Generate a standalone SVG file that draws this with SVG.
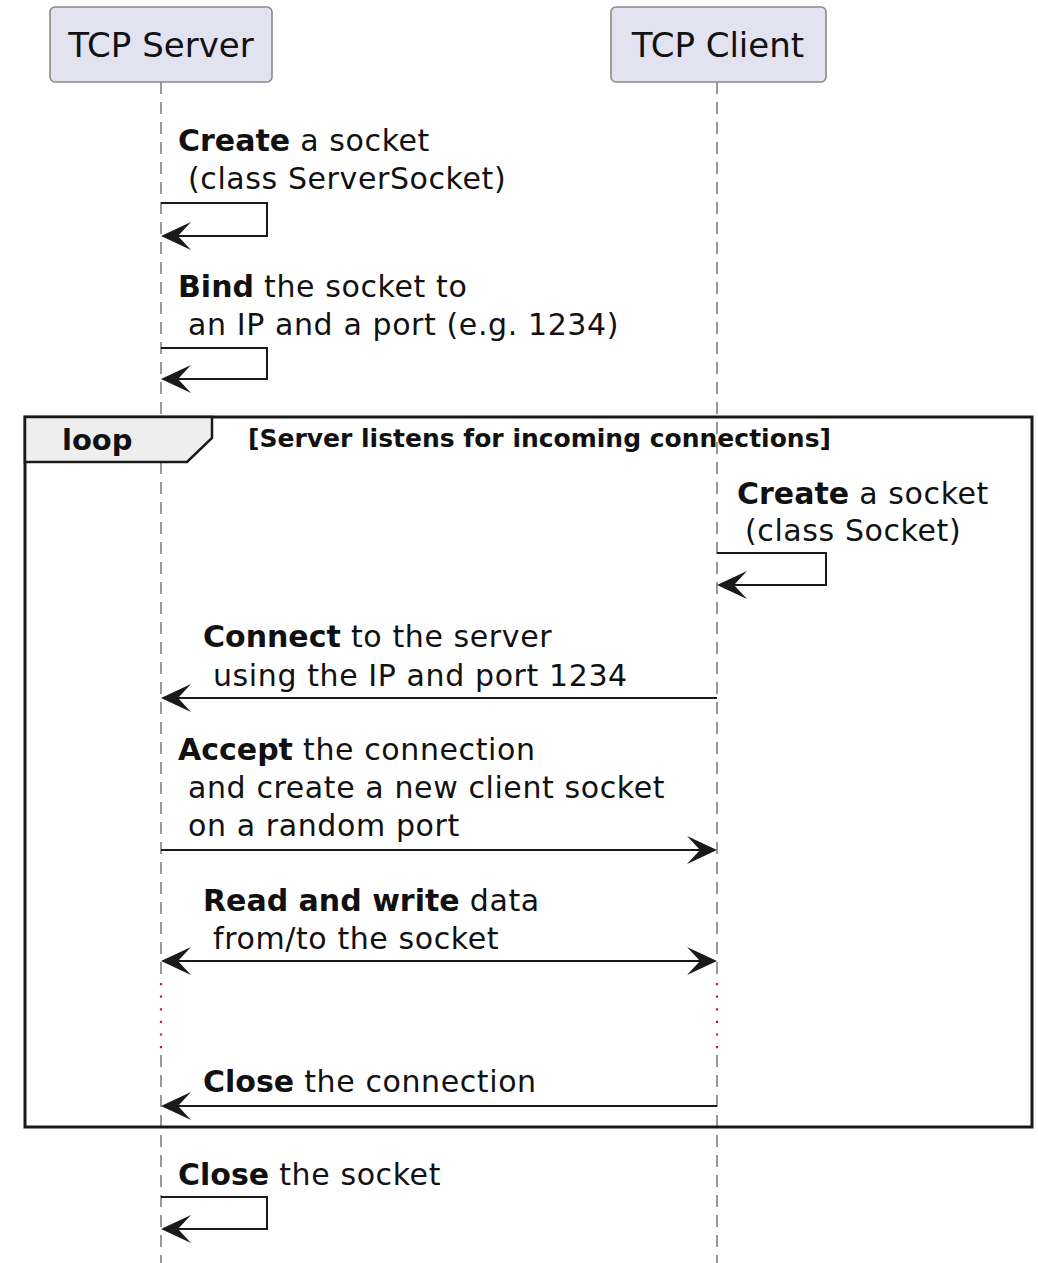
<svg xmlns="http://www.w3.org/2000/svg" width="1038" height="1263" viewBox="0 0 1038 1263">
<style>
.bg{fill:#ffffff}
.part rect{fill:#E2E2F0;stroke:#8a8a8a;stroke-width:1.6}
.part text{font-family:"DejaVu Sans",sans-serif;font-size:34px;fill:#111;text-anchor:middle}
.life{stroke:#808080;stroke-width:1.6;stroke-dasharray:12,8;fill:none}
.delay{stroke:#C2185B;stroke-width:2.2;stroke-dasharray:2.2,10.4;fill:none}
.msg{stroke:#1a1a1a;stroke-width:2;fill:none}
.head{fill:#1a1a1a}
.lbl{font-family:"DejaVu Sans",sans-serif;font-size:30px;fill:#111;letter-spacing:0.6px}
.b{font-weight:bold;letter-spacing:0px}
.frame{fill:none;stroke:#1a1a1a;stroke-width:3}
.tab{fill:#EEEEEE;stroke:#1a1a1a;stroke-width:2.5}
.tabtxt{font-family:"DejaVu Sans",sans-serif;font-size:29px;font-weight:bold;fill:#111}
.guard{font-family:"DejaVu Sans",sans-serif;font-size:25px;font-weight:bold;fill:#111}
</style>
<defs>
<path id="hl" d="M0,0 L30,-14 L17,0 L30,14 Z"/>
<path id="hr" d="M0,0 L-30,-14 L-17,0 L-30,14 Z"/>
</defs>
<rect class="bg" x="0" y="0" width="1038" height="1263"/>

<g id="lifelines">
<path class="life" d="M161,82 V975 M161,1055 V1263"/>
<path class="life" d="M717,82 V975 M717,1055 V1263"/>
<path class="delay" d="M161,983 V1050"/>
<path class="delay" d="M717,983 V1050"/>
</g>

<g id="participant-server" class="part">
<rect x="50" y="7" width="222" height="75" rx="5"/>
<text x="161" y="57">TCP Server</text>
</g>
<g id="participant-client" class="part">
<rect x="611" y="7" width="215" height="75" rx="5"/>
<text x="718" y="57">TCP Client</text>
</g>

<g id="loop-frame">
<rect class="frame" x="25" y="417" width="1007" height="710"/>
<path class="tab" d="M25,417 H212 V438 L187,462 H25 Z"/>
<text class="tabtxt" x="62" y="450">loop</text>
<text class="guard" x="248" y="447">[Server listens for incoming connections]</text>
</g>

<g id="connectors">
<g id="m1">
<path class="msg" d="M161,203 H267 V236 H163"/>
<use href="#hl" x="161" y="236" class="head"/>
<text class="lbl" x="178" y="151"><tspan class="b">Create</tspan> a socket</text>
<text class="lbl" x="188" y="189">(class ServerSocket)</text>
</g>
<g id="m2">
<path class="msg" d="M161,348 H267 V379 H163"/>
<use href="#hl" x="161" y="379" class="head"/>
<text class="lbl" x="178" y="297"><tspan class="b">Bind</tspan> the socket to</text>
<text class="lbl" x="188" y="335">an IP and a port (e.g. 1234)</text>
</g>
<g id="m3">
<path class="msg" d="M717,553 H826 V585 H719"/>
<use href="#hl" x="717" y="585" class="head"/>
<text class="lbl" x="737" y="504"><tspan class="b">Create</tspan> a socket</text>
<text class="lbl" x="745" y="541">(class Socket)</text>
</g>
<g id="m4">
<path class="msg" d="M717,698 H163"/>
<use href="#hl" x="161" y="698" class="head"/>
<text class="lbl" x="203" y="647"><tspan class="b">Connect</tspan> to the server</text>
<text class="lbl" x="213" y="686">using the IP and port 1234</text>
</g>
<g id="m5">
<path class="msg" d="M161,850 H715"/>
<use href="#hr" x="717" y="850" class="head"/>
<text class="lbl" x="178" y="760"><tspan class="b">Accept</tspan> the connection</text>
<text class="lbl" x="188" y="798">and create a new client socket</text>
<text class="lbl" x="188" y="836">on a random port</text>
</g>
<g id="m6">
<path class="msg" d="M163,961 H715"/>
<use href="#hl" x="161" y="961" class="head"/>
<use href="#hr" x="717" y="961" class="head"/>
<text class="lbl" x="203" y="911"><tspan class="b">Read and write</tspan> data</text>
<text class="lbl" x="213" y="949">from/to the socket</text>
</g>
<g id="m7">
<path class="msg" d="M717,1106 H163"/>
<use href="#hl" x="161" y="1106" class="head"/>
<text class="lbl" x="203" y="1092"><tspan class="b">Close</tspan> the connection</text>
</g>
<g id="m8">
<path class="msg" d="M161,1197 H267 V1229 H163"/>
<use href="#hl" x="161" y="1229" class="head"/>
<text class="lbl" x="178" y="1185"><tspan class="b">Close</tspan> the socket</text>
</g>
</g>
</svg>
